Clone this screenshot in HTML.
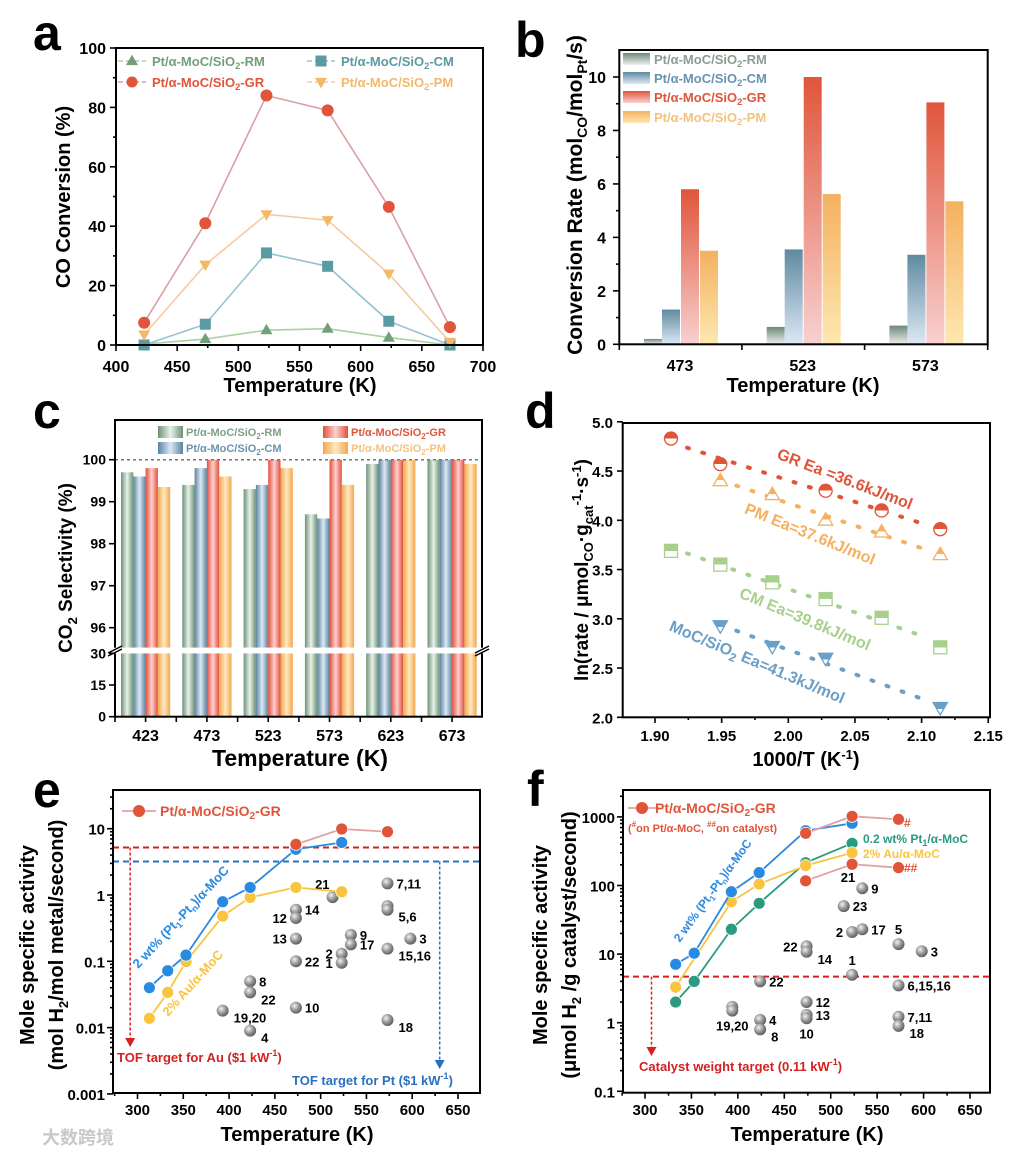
<!DOCTYPE html>
<html><head><meta charset="utf-8">
<style>
html,body{margin:0;padding:0;background:#fff;}
svg{display:block;font-family:"Liberation Sans","Noto Sans CJK SC",sans-serif;font-weight:bold;}
</style></head>
<body>
<svg id="fig" width="1012" height="1154" viewBox="0 0 1012 1154" xmlns="http://www.w3.org/2000/svg">
<defs>
 <linearGradient id="bRM" x1="0" y1="0" x2="0" y2="1"><stop offset="0" stop-color="#6d8a78"/><stop offset="1" stop-color="#eeeeee"/></linearGradient>
 <linearGradient id="bCM" x1="0" y1="0" x2="0" y2="1"><stop offset="0" stop-color="#5f8aa0"/><stop offset="1" stop-color="#dde8f5"/></linearGradient>
 <linearGradient id="bGR" x1="0" y1="0" x2="0" y2="1"><stop offset="0" stop-color="#e0553a"/><stop offset="1" stop-color="#f8d0d0"/></linearGradient>
 <linearGradient id="bPM" x1="0" y1="0" x2="0" y2="1"><stop offset="0" stop-color="#f4b060"/><stop offset="1" stop-color="#fde8b0"/></linearGradient>
 <linearGradient id="cRM" x1="0" y1="0" x2="1" y2="0"><stop offset="0" stop-color="#6e9078"/><stop offset="0.5" stop-color="#e8f2e8"/><stop offset="1" stop-color="#6e9078"/></linearGradient>
 <linearGradient id="cCM" x1="0" y1="0" x2="1" y2="0"><stop offset="0" stop-color="#5a84a0"/><stop offset="0.5" stop-color="#dce8f4"/><stop offset="1" stop-color="#5a84a0"/></linearGradient>
 <linearGradient id="cGR" x1="0" y1="0" x2="1" y2="0"><stop offset="0" stop-color="#e0503a"/><stop offset="0.5" stop-color="#ffd0d0"/><stop offset="1" stop-color="#e0503a"/></linearGradient>
 <linearGradient id="cPM" x1="0" y1="0" x2="1" y2="0"><stop offset="0" stop-color="#f0a850"/><stop offset="0.5" stop-color="#ffe8c0"/><stop offset="1" stop-color="#f0a850"/></linearGradient>
 <linearGradient id="hGR" x1="0" y1="0" x2="0" y2="1"><stop offset="0.5" stop-color="#e0553a"/><stop offset="0.5" stop-color="#fff"/></linearGradient>
 <linearGradient id="hPM" x1="0" y1="0" x2="0" y2="1"><stop offset="0.55" stop-color="#f5b060"/><stop offset="0.55" stop-color="#fff"/></linearGradient>
 <linearGradient id="hCM" x1="0" y1="0" x2="0" y2="1"><stop offset="0.5" stop-color="#a8d08d"/><stop offset="0.5" stop-color="#fff"/></linearGradient>
 <linearGradient id="hMo" x1="0" y1="0" x2="0" y2="1"><stop offset="0.5" stop-color="#6a9fc8"/><stop offset="0.5" stop-color="#fff"/></linearGradient>
 <radialGradient id="ball" cx="0.38" cy="0.35" r="0.7"><stop offset="0" stop-color="#f2f2f2"/><stop offset="0.5" stop-color="#9a9a9a"/><stop offset="1" stop-color="#555"/></radialGradient>
</defs>
<text x="33" y="50" font-size="50">a</text>
<text x="515" y="57" font-size="50">b</text>
<text x="33" y="428" font-size="50">c</text>
<text x="525" y="428" font-size="50">d</text>
<text x="33" y="807" font-size="50">e</text>
<text x="527" y="806" font-size="50">f</text>
<text transform="translate(70,197) rotate(-90)" text-anchor="middle" font-size="20">CO Conversion (%)</text>
<text x="300" y="392" text-anchor="middle" font-size="20">Temperature (K)</text>
<text transform="translate(582,195) rotate(-90)" text-anchor="middle" font-size="21">Conversion Rate (mol<tspan dy="5" font-size="14">CO</tspan><tspan dy="-5">/mol</tspan><tspan dy="5" font-size="14">Pt</tspan><tspan dy="-5">/s)</tspan></text>
<text x="803" y="392" text-anchor="middle" font-size="20">Temperature (K)</text>
<text transform="translate(72,568) rotate(-90)" text-anchor="middle" font-size="19">CO<tspan dy="5" font-size="13">2</tspan><tspan dy="-5"> Selectivity (%)</tspan></text>
<text x="300" y="766" text-anchor="middle" font-size="23">Temperature (K)</text>
<text transform="translate(588,570) rotate(-90)" text-anchor="middle" font-size="19">ln(rate / μmol<tspan dy="5" font-size="13">CO</tspan><tspan dy="-5">·g</tspan><tspan dy="5" font-size="13">cat</tspan><tspan dy="-12" font-size="13">-1</tspan><tspan dy="7">·s</tspan><tspan dy="-7" font-size="13">-1</tspan><tspan dy="7">)</tspan></text>
<text x="806" y="766" text-anchor="middle" font-size="20">1000/T  (K<tspan dy="-7" font-size="13">-1</tspan><tspan dy="7">)</tspan></text>
<text transform="translate(34,945) rotate(-90)" text-anchor="middle" font-size="20">Mole specific activity</text>
<text transform="translate(63,945) rotate(-90)" text-anchor="middle" font-size="20">(mol H<tspan dy="5" font-size="13">2</tspan><tspan dy="-5">/mol metal/second)</tspan></text>
<text x="297" y="1141" text-anchor="middle" font-size="20">Temperature (K)</text>
<text transform="translate(547,945) rotate(-90)" text-anchor="middle" font-size="20">Mole specific activity</text>
<text transform="translate(576,945) rotate(-90)" text-anchor="middle" font-size="20">(μmol H<tspan dy="5" font-size="13">2</tspan><tspan dy="-5"> /g catalyst/second)</tspan></text>
<text x="807" y="1141" text-anchor="middle" font-size="20">Temperature (K)</text>
<text x="42" y="1144" font-size="18" fill="#c8c8c8">大数跨境</text>
</svg>
<script>
const aTemps=[423,473,523,573,623,673];
const aRM=[0.3,2,5,5.5,2.5,0];
const aCM=[0,7,31,26.5,8,0];
const aGR=[7.5,41,84,79,46.5,6];
const aPM=[3.5,27,44,42,24,1];
const aYTicks=[0,20,40,60,80,100];
const aXTicks=[400,450,500,550,600,650,700];

const bCats=['473','523','573'];
const bRM=[0.2,0.65,0.7];
const bCM=[1.3,3.55,3.35];
const bGR=[5.8,10,9.05];
const bPM=[3.5,5.62,5.35];
const bYTicks=[0,2,4,6,8,10];

const cCats=['423','473','523','573','623','673'];
const cRM=[99.7,99.4,99.3,98.7,99.9,100];
const cCM=[99.6,99.8,99.4,98.6,100,100];
const cGR=[99.8,100,100,100,100,100];
const cPM=[99.35,99.6,99.8,99.4,100,99.9];
const cUpperTicks=[96,97,98,99,100];
const cLowerTicks=[0,15,30];

const dXTicks=[1.90,1.95,2.00,2.05,2.10,2.15];
const dYTicks=[2.0,2.5,3.0,3.5,4.0,4.5,5.0];
const dGRx=[1.912,1.949,2.028,2.070,2.114];
const dGRy=[4.83,4.57,4.30,4.10,3.91];
const dPMx=[1.949,1.988,2.028,2.070,2.114];
const dPMy=[4.40,4.26,4.00,3.88,3.65];
const dCMx=[1.912,1.949,1.988,2.028,2.070,2.114];
const dCMy=[3.69,3.55,3.37,3.20,3.01,2.71];
const dMox=[1.949,1.988,2.028,2.114];
const dMoy=[2.93,2.72,2.60,2.10];

const eXTicks=[300,350,400,450,500,550,600,650];
const eYTicks=[10,1,0.1,0.01,0.001];
const eYLabels=['10','1','0.1','0.01','0.001'];
const eGRx=[473,523,573];
const eGRy=[5.8,9.9,9.0];
const eBlueX=[313,333,353,393,423,473,523];
const eBlueY=[0.04,0.072,0.124,0.79,1.3,4.9,6.2];
const eAuX=[313,333,353,393,423,473,523];
const eAuY=[0.0138,0.034,0.099,0.48,0.92,1.3,1.12];
const eLitX=[513,573,573,573,473,473,473,473,473,533,533,598,523,523,573,423,423,393,423,573];
const eLitY=[0.93,1.5,0.68,0.6,0.6,0.45,0.22,0.1,0.02,0.25,0.18,0.22,0.13,0.095,0.155,0.05,0.034,0.018,0.009,0.013];
const eLitLab=['21','7,11','','5,6','14','12','13','22','10','9','17','3','2','1','15,16','8','22','19,20','4','18'];
const eLitPos=['tl','r','r','rb','r','l','l','r','r','r','r','r','l','l','rb','r','rb','rb','rb','rb'];
const eAuTarget=5.2, ePtTarget=3.2;

const fXTicks=[300,350,400,450,500,550,600,650];
const fYTicks=[1000,100,10,1,0.1];
const fYLabels=['1000','100','10','1','0.1'];
const fGRx=[473,523,573];
const fGRy=[578,1020,922];
const fGR2x=[473,523,573];
const fGR2y=[117,204,182];
const fBlueX=[333,353,393,423,473,523];
const fBlueY=[7.1,10.3,81,154,630,806];
const fGreenX=[333,353,393,423,473,523];
const fGreenY=[2,4,23,55,215,412];
const fAuX=[333,393,423,473,523];
const fAuY=[3.3,58,105,195,300];
const fLitX=[534,514,523,534,474,474,573,598,523,424,573,474,394,394,424,474,474,573,424,573];
const fLitY=[91,50,21,23,13,10.8,14,11,5,4,3.5,2,1.7,1.5,1.1,1.3,1.16,1.22,0.8,0.9];
const fLitLab=['9','23','2','17','22','14','5','3','1','22','6,15,16','12','','19,20','4','13','10','7,11','8','18'];
const fLitPos=['r','r','l','r','l','rb','t','r','t','r','r','r','r','b','r','r','b','r','rb','rb'];
const fWeightTarget=4.7;

const NS='http://www.w3.org/2000/svg';
const svg=document.getElementById('fig');
function mk(tag,a){const e=document.createElementNS(NS,tag);for(const k in a)e.setAttribute(k,a[k]);svg.appendChild(e);return e;}
function tx(s,x,y,size,anchor,fill){const e=mk('text',{x:x,y:y,'font-size':size,'text-anchor':anchor||'start',fill:fill||'#000'});e.innerHTML=s;return e;}
const SUB2='SiO<tspan dy="3" font-size="0.72em">2</tspan><tspan dy="-3">';
function legName(k){return 'Pt/α-MoC/'+SUB2+'-'+k+'</tspan>';}
function marker(shape,x,y,s,fill,stroke){
  let e;
  if(shape==='c') e=mk('circle',{cx:x,cy:y,r:s,fill:fill,stroke:stroke||'none','stroke-width':1.3});
  else if(shape==='s') e=mk('rect',{x:x-s,y:y-s,width:2*s,height:2*s,fill:fill,stroke:stroke||'none','stroke-width':1.3});
  else if(shape==='u') e=mk('polygon',{points:`${x},${y-s*1.15} ${x-s*1.1},${y+s*0.75} ${x+s*1.1},${y+s*0.75}`,fill:fill,stroke:stroke||'none','stroke-width':1.3});
  else e=mk('polygon',{points:`${x},${y+s*1.15} ${x-s*1.1},${y-s*0.75} ${x+s*1.1},${y-s*0.75}`,fill:fill,stroke:stroke||'none','stroke-width':1.3});
  return e;
}
function frame(x0,y0,x1,y1,name){
  const e=mk('rect',{x:x0,y:y0,width:x1-x0,height:y1-y0,fill:'none',stroke:'#000','stroke-width':2});
  
  
}
function tick(x1,y1,x2,y2){mk('line',{x1:x1,y1:y1,x2:x2,y2:y2,stroke:'#000','stroke-width':1.6});}

// PANEL A
const ax=v=>116+(v-400)*1.2233, ay=v=>345-v*2.97;
aXTicks.forEach((t,i)=>{tick(ax(t),345,ax(t),351); if(i<aXTicks.length-1) tick(ax(t+25),345,ax(t+25),348);
  const l=tx(String(t),ax(t),372,16,'middle');
  
  });
aYTicks.forEach((t,i)=>{tick(110,ay(t),116,ay(t)); if(i<aYTicks.length-1) tick(113,ay(t+10),116,ay(t+10));
  const l=tx(String(t),106,ay(t)+6,16,'end');
  
  });
const aSeries=[[aRM,'#a9d2a0','#72a07c','u','RM'],[aCM,'#93c3d3','#5a9aa2','s','CM'],[aGR,'#d9a0a4','#e0553a','c','GR'],[aPM,'#f5caa0','#f5b868','d','PM']];
aSeries.forEach(([vals,lc,mc,sh,k])=>{
  const pl=mk('polyline',{points:vals.map((v,i)=>ax(aTemps[i])+','+ay(v)).join(' '),fill:'none',stroke:lc,'stroke-width':1.6});
  
  
  vals.forEach((v,i)=>{const m=marker(sh,ax(aTemps[i]),ay(v),sh==='c'?6:5.5,mc);
    
    });
});
frame(116,48,483,345,'a-plot-frame');
[[0,132,61],[1,321,61],[2,132,82],[3,321,82]].forEach(([i,x,y])=>{
  const s=aSeries[i];
  const ll=mk('line',{x1:x-14,y1:y,x2:x+14,y2:y,stroke:s[1],'stroke-width':1.6,'stroke-dasharray':'5 3'});
  
  
  const m=marker(s[3],x,y,5.5,s[2]);
  
  
  const t=tx(legName(s[4]),x+20,y+5,13,'start',s[2]);
  
  
});

// PANEL B
const bx=i=>680+122.7*i, by=v=>344.3-v*26.73;
[619.3,741.9,864.6,987.7].forEach(x=>tick(x,344.3,x,350));
bYTicks.forEach((t,i)=>{tick(613,by(t),619.3,by(t)); if(i<bYTicks.length-1) tick(616,by(t+1),619.3,by(t+1));
  const l=tx(String(t),606,by(t)+6,16,'end');
  
  });
bCats.forEach((c,i)=>{const l=tx(c,bx(i),371,16,'middle');
  
  });
const bSeries=[[bRM,'bRM',-36,'RM','#8a9e90'],[bCM,'bCM',-18,'CM','#6a94ad'],[bGR,'bGR',1,'GR','#e0553a'],[bPM,'bPM',20,'PM','#f5c27a']];
bSeries.forEach(([vals,g,off,k])=>{vals.forEach((v,i)=>{
  const r=mk('rect',{x:bx(i)+off,y:by(v),width:18,height:344.3-by(v),fill:'url(#'+g+')'});
  
  });});
frame(619.3,50,987.7,344.3,'b-plot-frame');
bSeries.forEach((s,i)=>{const y=[59,78,97,117][i];
  const r=mk('rect',{x:623,y:y-6,width:27,height:12,fill:'url(#'+s[1]+')'});
  
  
  const t=tx(legName(s[3]),654,y+5,13,'start',s[4]);
  
  });

// PANEL C
const cxg=i=>121+61.3*i, cyU=v=>459.7-(v-100)*42, cyL=v=>716.7-v*(63.4/30);
const cSeries=[[cRM,'cRM','RM'],[cCM,'cCM','CM'],[cGR,'cGR','GR'],[cPM,'cPM','PM']];
cSeries.forEach(([vals,g,k],si)=>{vals.forEach((v,i)=>{
  const x=cxg(i)+si*12.3;
  const r=mk('rect',{x:x,y:cyU(v),width:12.3,height:647.7-cyU(v),fill:'url(#'+g+')'});
  
  
  const r2=mk('rect',{x:x,y:cyL(30),width:12.3,height:716.7-cyL(30),fill:'url(#'+g+')'});
  
  });});
const dl=mk('line',{x1:115,y1:cyU(100),x2:482,y2:cyU(100),stroke:'#777','stroke-width':1.5,'stroke-dasharray':'3 3'});


mk('rect',{x:115,y:420,width:367,height:296.7,fill:'none',stroke:'#000','stroke-width':2});
mk('rect',{x:105,y:647.7,width:390,height:5.6,fill:'#fff'});
mk('path',{d:'M108,653 L122,646 M108,656 L122,649',stroke:'#000','stroke-width':1.5});
mk('path',{d:'M475,653 L489,646 M475,656 L489,649',stroke:'#000','stroke-width':1.5});
cUpperTicks.forEach(t=>{tick(109,cyU(t),115,cyU(t));
  const l=tx(String(t),106,cyU(t)+5,14,'end');
  
  });
cLowerTicks.forEach(t=>{tick(109,cyL(t),115,cyL(t));
  const l=tx(String(t),106,cyL(t)+5,14,'end');
  
  });
cCats.forEach((c,i)=>{const cx=cxg(i)+24.6;tick(cx,716.7,cx,722);tick(cxg(i)-6,716.7,cxg(i)-6,722);
  const l=tx(c,cx,741,16,'middle');
  
  });
[[0,158,432],[1,158,448],[2,323,432],[3,323,448]].forEach(([i,x,y])=>{
  const s=cSeries[i];
  const r=mk('rect',{x:x,y:y-6,width:25,height:12,fill:'url(#'+s[1]+')'});
  
  
  const t=tx(legName(s[2]),x+28,y+4,11,'start',['#7fa088','#6a94ad','#e0553a','#f5c27a'][i]);
  
  });

// PANEL D
const dx=v=>655+(v-1.90)*1333, dy=v=>717.3-(v-2)*98.5;
dXTicks.forEach((t,i)=>{tick(dx(t),717.3,dx(t),723); if(i<dXTicks.length-1) tick(dx(t+0.025),717.3,dx(t+0.025),720);
  const l=tx(t.toFixed(2),dx(t),741,15,'middle');
  
  });
dYTicks.forEach(t=>{tick(617,dy(t),622.7,dy(t));
  const l=tx(t.toFixed(1),613,dy(t)+6,15,'end');
  
  });
const dSeries=[[dGRx,dGRy,'#e0553a','hGR','c','GR'],[dPMx,dPMy,'#f5b060','hPM','u','PM'],[dCMx,dCMy,'#a8d08d','hCM','s','CM'],[dMox,dMoy,'#6a9fc8','hMo','d','MoC']];
dSeries.forEach(([xs,ys,col,g,sh,k])=>{
  const n=xs.length,mx=xs.reduce((a,b)=>a+b)/n,my=ys.reduce((a,b)=>a+b)/n;
  let sxy=0,sxx=0;xs.forEach((x,i)=>{sxy+=(x-mx)*(ys[i]-my);sxx+=(x-mx)*(x-mx);});
  const sl=sxy/sxx,x0=xs[0]+0.012,x1=xs[n-1]-0.01;
  const fl=mk('line',{x1:dx(x0),y1:dy(my+sl*(x0-mx)),x2:dx(x1),y2:dy(my+sl*(x1-mx)),stroke:col,'stroke-width':4,'stroke-dasharray':'2 14','stroke-linecap':'round'});
  
  
  xs.forEach((x,i)=>{const m=marker(sh,dx(x),dy(ys[i]),6.5,'url(#'+g+')',col);
    
    });
});
frame(622.7,423,990,717.3,'d-plot-frame');
[['GR  Ea =36.6kJ/mol','#e0553a',843,484,21],['PM  Ea=37.6kJ/mol','#f5b060',808,539,22],['CM  Ea=39.8kJ/mol','#a8d08d',803,624,22.5],['MoC/SiO<tspan dy="4" font-size="12">2</tspan><tspan dy="-4"> Ea=41.3kJ/mol</tspan>','#6a9fc8',755,667,23]].forEach(([s,c,x,y,a])=>{
  const t=mk('text',{x:0,y:0,transform:`translate(${x},${y}) rotate(${a})`,'text-anchor':'middle','font-size':16,fill:c});
  t.innerHTML=s;
  
  });

// PANEL E / F shared
function logPanel(p,X0,X1,Y0,Y1,xf,yf,xt,yt,ylab){
  xt.forEach((t,i)=>{tick(xf(t),Y1,xf(t),Y1+6); tick(xf(t)-22.9,Y1,xf(t)-22.9,Y1+3);
    const l=tx(String(t),xf(t),1115,15,'middle');
    
    });
  yt.forEach((t,i)=>{tick(X0-6,yf(t),X0,yf(t));
    for(let m=2;m<10;m++){const yy=yf(t*m);if(yy>Y0&&yy<Y1)tick(X0-3,yy,X0,yy);}
    const l=tx(ylab[i],X0-8,yf(t)+6,15,'end');
    
    });
}
function series(p,xs,ys,xf,yf,col,lc,k,r){
  const pl=mk('polyline',{points:xs.map((x,i)=>xf(x)+','+yf(ys[i])).join(' '),fill:'none',stroke:lc,'stroke-width':1.8});
  
  
  xs.forEach((x,i)=>{const m=mk('circle',{cx:xf(x),cy:yf(ys[i]),r:r||6,fill:col,stroke:'#fff','stroke-width':0.8});
    
    });
}
function lit(p,xs,ys,labs,pos,xf,yf){
  xs.forEach((x,i)=>{const X=xf(x),Y=yf(ys[i]);
    const b=mk('circle',{cx:X,cy:Y,r:6,fill:'url(#ball)'});
    
    
    if(!labs[i])return;
    const ps=pos[i];let lx=X+9,ly=Y+5,an='start';
    if(ps==='l'){lx=X-9;an='end';}
    if(ps==='rb'){lx=X+11;ly=Y+12;}
    if(ps==='tl'){lx=X-3;ly=Y-8;an='end';}
    if(ps==='t'){lx=X;ly=Y-10;an='middle';}
    if(ps==='b'){lx=X;ly=Y+20;an='middle';}
    const l=tx(labs[i],lx,ly,13,an);
    
    });
}
function arrowDown(x,y0,y1,col){
  const l=mk('line',{x1:x,y1:y0,x2:x,y2:y1-8,stroke:col,'stroke-width':1.5,'stroke-dasharray':'3 2'});
  
  
  const h=mk('polygon',{points:`${x-5},${y1-9} ${x+5},${y1-9} ${x},${y1}`,fill:col});
  
  
}

// PANEL E
const ex=v=>137.5+(v-300)*0.9157, ey=v=>895-Math.log10(v)*66.3;
logPanel('e',113,480,790,1093,ex,ey,eXTicks,eYTicks,eYLabels);
const eRed=mk('line',{x1:113,y1:ey(eAuTarget),x2:480,y2:ey(eAuTarget),stroke:'#d42020','stroke-width':2,'stroke-dasharray':'6 4'});


const eBl=mk('line',{x1:113,y1:ey(ePtTarget),x2:480,y2:ey(ePtTarget),stroke:'#2a70c0','stroke-width':2,'stroke-dasharray':'6 4'});


arrowDown(ex(292),ey(eAuTarget),1047,'#d42020');
arrowDown(ex(630),ey(ePtTarget),1069,'#2a70c0');
lit('e',eLitX,eLitY,eLitLab,eLitPos,ex,ey);
series('e',eAuX,eAuY,ex,ey,'#f9c540','#f9c540','au');
series('e',eBlueX,eBlueY,ex,ey,'#2a8ae0','#2a8ae0','ptn');
series('e',eGRx,eGRy,ex,ey,'#e0553a','#e2a0a4','gr');
frame(113,790,480,1093,'e-plot-frame');
mk('line',{x1:122,y1:811,x2:156,y2:811,stroke:'#e2a0a4','stroke-width':1.8});
mk('circle',{cx:139,cy:811,r:6,fill:'#e0553a'});
{const t=tx('Pt/α-MoC/'+SUB2+'-GR</tspan>',160,816,14,'start','#e0553a');

}
{const t=tx('TOF target for Au ($1 kW<tspan dy="-6" font-size="9">-1</tspan><tspan dy="6">)</tspan>',117,1062,13,'start','#d42020');

}
{const t=tx('TOF target for Pt ($1 kW<tspan dy="-6" font-size="9">-1</tspan><tspan dy="6">)</tspan>',292,1085,13,'start','#2a70c0');

}
{const t=mk('text',{transform:'translate(184,920) rotate(-47)','text-anchor':'middle','font-size':13,fill:'#2a8ae0'});
t.innerHTML='2 wt% (Pt<tspan dy="3" font-size="9">1</tspan><tspan dy="-3">-Pt</tspan><tspan dy="3" font-size="9">n</tspan><tspan dy="-3">)/α-MoC</tspan>';

}
{const t=mk('text',{transform:'translate(196,986) rotate(-48)','text-anchor':'middle','font-size':13,fill:'#f9c540'});
t.innerHTML='2% Au/α-MoC';

}

// PANEL F
const fx=v=>645+(v-300)*0.9286, fy=v=>1022.7-Math.log10(v)*68.6;
logPanel('f',623,990,790,1092.7,fx,fy,fXTicks,fYTicks,fYLabels);
const fRed=mk('line',{x1:623,y1:fy(fWeightTarget),x2:990,y2:fy(fWeightTarget),stroke:'#d42020','stroke-width':2,'stroke-dasharray':'6 4'});


arrowDown(fx(307),fy(fWeightTarget),1056,'#d42020');
lit('f',fLitX,fLitY,fLitLab,fLitPos,fx,fy);
series('f',fGreenX,fGreenY,fx,fy,'#2a9a80','#2a9a80','pt1');
series('f',fAuX,fAuY,fx,fy,'#f9c540','#f9c540','au');
series('f',fBlueX,fBlueY,fx,fy,'#2a8ae0','#2a8ae0','ptn');
series('f',fGRx,fGRy,fx,fy,'#e0553a','#e2a0a4','gr-metal');
series('f',fGR2x,fGR2y,fx,fy,'#e0553a','#e2a0a4','gr-catalyst');
frame(623,790,990,1092.7,'f-plot-frame');
mk('line',{x1:628,y1:808,x2:660,y2:808,stroke:'#e2a0a4','stroke-width':1.8});
mk('circle',{cx:642,cy:808,r:6,fill:'#e0553a'});
{const t=tx('Pt/α-MoC/'+SUB2+'-GR</tspan>',655,813,14,'start','#e0553a');

}
{const t=tx('(<tspan dy="-5" font-size="8">#</tspan><tspan dy="5">on Pt/α-MoC, </tspan><tspan dy="-5" font-size="8">##</tspan><tspan dy="5">on catalyst)</tspan>',628,832,11,'start','#e0553a');

}
{const t=tx('#',904,827,12,'start','#e0553a');

}
{const t=tx('##',904,872,12,'start','#e0553a');

}
{const t=tx('21',848,882,13,'middle');

}
{const t=tx('0.2 wt% Pt<tspan dy="3" font-size="9">1</tspan><tspan dy="-3">/α-MoC</tspan>',863,843,12,'start','#2a9a80');

}
{const t=tx('2% Au/α-MoC',863,858,12,'start','#f9c540');

}
{const t=mk('text',{transform:'translate(716,893) rotate(-54)','text-anchor':'middle','font-size':12,fill:'#2a8ae0'});
t.innerHTML='2 wt% (Pt<tspan dy="3" font-size="8">1</tspan><tspan dy="-3">-Pt</tspan><tspan dy="3" font-size="8">n</tspan><tspan dy="-3">)/α-MoC</tspan>';

}
{const t=tx('Catalyst weight target (0.11 kW<tspan dy="-6" font-size="9">-1</tspan><tspan dy="6">)</tspan>',639,1071,13,'start','#d42020');

}
</script>
</body></html>
